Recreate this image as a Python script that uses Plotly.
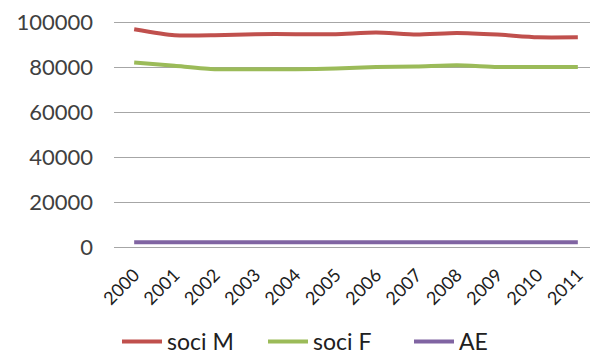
import plotly.graph_objects as go

years = ['2000', '2001', '2002', '2003', '2004', '2005',
         '2006', '2007', '2008', '2009', '2010', '2011']
soci_m = [96900, 94200, 94200, 94700, 94700, 94700,
          95400, 94500, 95200, 94500, 93300, 93300]
soci_f = [82100, 80600, 79100, 79100, 79100, 79400,
          80100, 80300, 80900, 80100, 80100, 80100]
ae = [2100, 2100, 2100, 2100, 2100, 2100,
      2100, 2100, 2100, 2100, 2100, 2100]
y_ticks = [0, 20000, 40000, 60000, 80000, 100000]

font_family = "Lato, 'Open Sans', sans-serif"

fig = go.Figure()
fig.add_trace(go.Scatter(x=years, y=soci_m, name='soci M', mode='lines',
                         line=dict(color='#C0504D', width=4, shape='spline', smoothing=0.6)))
fig.add_trace(go.Scatter(x=years, y=soci_f, name='soci F', mode='lines',
                         line=dict(color='#9BBB59', width=4, shape='spline', smoothing=0.6)))
fig.add_trace(go.Scatter(x=years, y=ae, name='AE', mode='lines',
                         line=dict(color='#8064A2', width=4)))

# page has the default 8px body margin, so the figure is sized to fit inside it
fig.update_layout(
    width=590, height=355,
    margin=dict(l=106, r=0, t=12, b=116, autoexpand=False),
    paper_bgcolor='white', plot_bgcolor='white',
    font=dict(family=font_family, color='#404040'),
    showlegend=True,
    legend=dict(orientation='h', xref='container', yref='container',
                x=109 / 590, xanchor='left', y=0.0, yanchor='bottom',
                font=dict(size=23, color='#202020'),
                entrywidth=91, entrywidthmode='pixels',
                itemwidth=40, tracegroupgap=0),
)
fig.update_xaxes(type='category', range=[-0.5, 11.5], showgrid=False,
                 showline=False, ticks='', tickangle=-45, automargin=False,
                 ticklabelstandoff=13,
                 tickfont=dict(size=18, color='#202020'))
# a little headroom so the 100000 gridline is not dropped at the edge
fig.update_yaxes(range=[0, 101000], tickvals=y_ticks,
                 ticktext=[str(v) for v in y_ticks], showgrid=True,
                 gridcolor='#A6A6A6', gridwidth=1, zeroline=True,
                 zerolinecolor='#A6A6A6', zerolinewidth=1, automargin=False,
                 ticklabelstandoff=20, ticklabeloverflow='allow',
                 tickfont=dict(size=22, color='#404040'))

fig.write_html("out.html")
